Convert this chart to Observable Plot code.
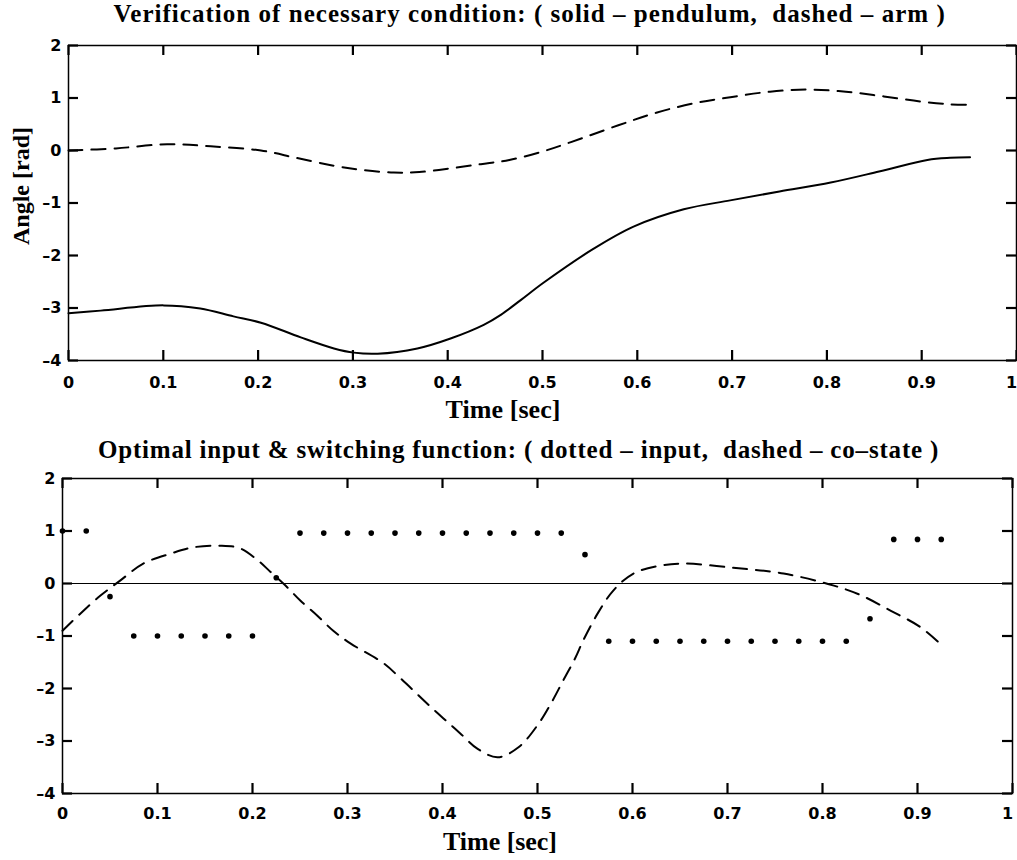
<!DOCTYPE html>
<html>
<head>
<meta charset="utf-8">
<script src="https://cdn.jsdelivr.net/npm/d3@7"></script>
<script src="https://cdn.jsdelivr.net/npm/@observablehq/plot@0.6"></script>
<style>
  html, body { margin: 0; padding: 0; background: #fff; }
  #wrap { position: relative; width: 1017px; height: 860px; overflow: hidden; background: #fff; }
  .panel { position: absolute; left: 0; }
  .lbl { position: absolute; white-space: pre; font-family: "Liberation Serif", "Times New Roman", serif; font-weight: bold; color: #000; line-height: 1; }
</style>
</head>
<body>
<div id="wrap"></div>
<script>
// ---------------- data ----------------
const xTicks = [0, 0.1, 0.2, 0.3, 0.4, 0.5, 0.6, 0.7, 0.8, 0.9, 1];
const xTickLabelsMain = [0, 0.1, 0.2, 0.3, 0.4, 0.5, 0.6, 0.7, 0.8, 0.9];
const xTickLabelsEnd = [1];
const yTicks = [-4, -3, -2, -1, 0, 1, 2];

// top panel: pendulum (solid) and arm (dashed) angles [rad]
const pendulumTime  = [0, 0.034, 0.1, 0.139, 0.174, 0.203, 0.245, 0.28, 0.301, 0.326, 0.368, 0.403, 0.438, 0.456, 0.477, 0.501, 0.554, 0.596, 0.649, 0.698, 0.75, 0.804, 0.855, 0.906, 0.93, 0.951];
const pendulumAngle = [-3.10, -3.05, -2.95, -3.01, -3.16, -3.28, -3.56, -3.77, -3.85, -3.87, -3.77, -3.58, -3.32, -3.13, -2.85, -2.52, -1.87, -1.45, -1.12, -0.95, -0.78, -0.61, -0.40, -0.18, -0.14, -0.13];

const armTime  = [0, 0.05, 0.104, 0.15, 0.203, 0.24, 0.28, 0.31, 0.343, 0.37, 0.403, 0.435, 0.465, 0.5, 0.53, 0.58, 0.62, 0.66, 0.70, 0.74, 0.78, 0.82, 0.86, 0.9, 0.93, 0.95];
const armAngle = [0, 0.04, 0.12, 0.08, 0.0, -0.14, -0.29, -0.37, -0.42, -0.41, -0.34, -0.26, -0.18, -0.02, 0.16, 0.48, 0.72, 0.9, 1.02, 1.12, 1.16, 1.12, 1.03, 0.93, 0.88, 0.87];

// bottom panel: optimal input (dotted) and co-state switching function (dashed)
const inputTime  = [0, 0.025, 0.05, 0.075, 0.1, 0.125, 0.15, 0.175, 0.2, 0.225, 0.25, 0.275, 0.3, 0.325, 0.35, 0.375, 0.4, 0.425, 0.45, 0.475, 0.5, 0.525, 0.55, 0.575, 0.6, 0.625, 0.65, 0.675, 0.7, 0.725, 0.75, 0.775, 0.8, 0.825, 0.85, 0.875, 0.9, 0.925];
const inputValue = [1, 1, -0.25, -1, -1, -1, -1, -1, -1, 0.11, 0.96, 0.96, 0.96, 0.96, 0.96, 0.96, 0.96, 0.96, 0.96, 0.96, 0.96, 0.96, 0.55, -1.1, -1.1, -1.1, -1.1, -1.1, -1.1, -1.1, -1.1, -1.1, -1.1, -1.1, -0.67, 0.84, 0.84, 0.84];

const costateTime  = [0, 0.019, 0.04, 0.061, 0.085, 0.114, 0.138, 0.166, 0.187, 0.205, 0.219, 0.237, 0.25, 0.268, 0.285, 0.303, 0.338, 0.356, 0.384, 0.401, 0.419, 0.437, 0.458, 0.48, 0.5, 0.514, 0.527, 0.54, 0.548, 0.564, 0.58, 0.601, 0.629, 0.654, 0.706, 0.759, 0.812, 0.84, 0.872, 0.903, 0.927];
const costateValue = [-0.9, -0.57, -0.23, 0.06, 0.38, 0.57, 0.69, 0.72, 0.67, 0.45, 0.22, -0.08, -0.32, -0.61, -0.9, -1.14, -1.52, -1.81, -2.29, -2.57, -2.86, -3.15, -3.31, -3.12, -2.70, -2.29, -1.85, -1.41, -1.09, -0.55, -0.13, 0.19, 0.34, 0.38, 0.30, 0.19, -0.04, -0.22, -0.52, -0.83, -1.2];

const zeroLine = [0];

// ---------------- helpers ----------------
const zip = (ts, vs) => ts.map((t, i) => ({t, v: vs[i]}));
const fmtX = d => String(d);
const fmtY = d => d < 0 ? "\u2013" + Math.abs(d) : String(d);
const tickFont = {fontFamily: "DejaVu Sans", fontWeight: "bold", fontSize: 16, fill: "#000"};
const TICK = 10;

function frameMarks(dims, padX, padY) {
  const fw = dims.width - dims.marginLeft - dims.marginRight;
  const fh = dims.height - dims.marginTop - dims.marginBottom;
  const ts = {stroke: "#000", strokeWidth: 2.2};
  return [
    Plot.frame({stroke: "#000", strokeWidth: 1.5, fill: "none"}),
    // inward MATLAB-style ticks on all four sides
    Plot.ruleX(xTicks, {x: d => d, insetTop: fh - TICK, ...ts}),
    Plot.ruleX(xTicks, {x: d => d, insetBottom: fh - TICK, ...ts}),
    Plot.ruleY(yTicks, {y: d => d, insetRight: fw - TICK, ...ts}),
    Plot.ruleY(yTicks, {y: d => d, insetLeft: fw - TICK, ...ts}),
    // tick labels
    Plot.axisX(xTickLabelsMain, {anchor: "bottom", tickSize: 0, tickPadding: padX, tickFormat: fmtX, label: null, ...tickFont}),
    Plot.axisX(xTickLabelsEnd, {anchor: "bottom", tickSize: 0, tickPadding: padX, tickFormat: fmtX, label: null, dx: -5, ...tickFont}),
    Plot.axisY(yTicks, {anchor: "left", tickSize: 0, tickPadding: padY, tickFormat: fmtY, label: null, ...tickFont})
  ];
}

const wrap = document.getElementById("wrap");

// ---------------- top panel ----------------
const topDims = {width: 1017, height: 430, marginLeft: 68, marginRight: 1, marginTop: 45, marginBottom: 70};
const topPanel = Plot.plot({
  ...topDims,
  x: {domain: [0, 1]},
  y: {domain: [-4, 2]},
  style: {background: "transparent", overflow: "visible", color: "#000"},
  marks: [
    ...frameMarks(topDims, 16, 7),
    Plot.line(zip(pendulumTime, pendulumAngle), {x: "t", y: "v", stroke: "#000", strokeWidth: 2, curve: "catmull-rom"}),
    Plot.line(zip(armTime, armAngle), {x: "t", y: "v", stroke: "#000", strokeWidth: 2, strokeDasharray: "14,9", curve: "catmull-rom"})
  ]
});
topPanel.classList.add("panel");
topPanel.style.top = "0px";
wrap.appendChild(topPanel);

// ---------------- bottom panel ----------------
const bottomDims = {width: 1017, height: 420, marginLeft: 62, marginRight: 5, marginTop: 38, marginBottom: 67};
const bottomPanel = Plot.plot({
  ...bottomDims,
  x: {domain: [0, 1]},
  y: {domain: [-4, 2]},
  style: {background: "transparent", overflow: "visible", color: "#000"},
  marks: [
    Plot.ruleY(zeroLine, {stroke: "#000", strokeWidth: 1}),
    ...frameMarks(bottomDims, 14, 7),
    Plot.line(zip(costateTime, costateValue), {x: "t", y: "v", stroke: "#000", strokeWidth: 2, strokeDasharray: "14,9", curve: "catmull-rom"}),
    Plot.dot(zip(inputTime, inputValue), {x: "t", y: "v", r: 2.8, fill: "#000", stroke: "none"})
  ]
});
bottomPanel.classList.add("panel");
bottomPanel.style.top = "440px";
wrap.appendChild(bottomPanel);

// ---------------- texts ----------------
function addLabel(text, size, cx, baseline, width, rotate) {
  const el = document.createElement("div");
  el.className = "lbl";
  el.textContent = text;
  el.style.fontSize = size + "px";
  wrap.appendChild(el);
  const w0 = el.getBoundingClientRect().width;
  const n = text.length;
  const ls = (width - w0) / n;
  el.style.letterSpacing = ls.toFixed(2) + "px";
  const w = el.offsetWidth;
  const h = size;
  if (!rotate) {
    el.style.left = (cx - w / 2 + ls / 2) + "px";
    el.style.top = (baseline - 0.8375 * size) + "px";
  } else {
    el.style.left = (cx - w / 2 + ls / 2) + "px";
    el.style.top = (baseline - h / 2) + "px";
    el.style.transform = "rotate(-90deg)";
    el.style.transformOrigin = "50% 50%";
  }
  return el;
}

addLabel("Verification of necessary condition: ( solid \u2013 pendulum,  dashed \u2013 arm )", 25, 529, 22, 832);
addLabel("Time [sec]", 26, 503, 419, 115);
addLabel("Angle [rad]", 24, 21, 186, 118, true);
addLabel("Optimal input & switching function: ( dotted \u2013 input,  dashed \u2013 co\u2013state )", 25, 518, 458, 841);
addLabel("Time [sec]", 26, 500, 851, 114);
</script>
</body>
</html>
